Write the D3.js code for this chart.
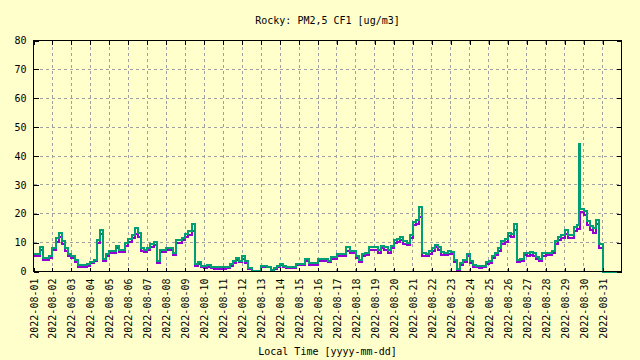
<!DOCTYPE html>
<html>
<head>
<meta charset="utf-8">
<script src="https://cdn.jsdelivr.net/npm/d3@7"></script>
<style>
  html, body { margin: 0; padding: 0; background: #ffffcc; }
  svg { display: block; }
  text { font-family: "DejaVu Sans Mono", monospace; font-size: 10px; fill: #000; }
</style>
</head>
<body>
<svg id="chart" width="640" height="360"></svg>
<script>
// ---- data (4-hour readings, 6 per day, Aug 1 .. Aug 31, 2022) ----
const title = "Rocky: PM2,5 CF1 [ug/m3]";
const xLabel = "Local Time [yyyy-mm-dd]";
const yTicks = [0, 10, 20, 30, 40, 50, 60, 70, 80];
const dayTicks = [
  "2022-08-01","2022-08-02","2022-08-03","2022-08-04","2022-08-05","2022-08-06",
  "2022-08-07","2022-08-08","2022-08-09","2022-08-10","2022-08-11","2022-08-12",
  "2022-08-13","2022-08-14","2022-08-15","2022-08-16","2022-08-17","2022-08-18",
  "2022-08-19","2022-08-20","2022-08-21","2022-08-22","2022-08-23","2022-08-24",
  "2022-08-25","2022-08-26","2022-08-27","2022-08-28","2022-08-29","2022-08-30",
  "2022-08-31"
];
const seriesGreen = [
  5.9, 5.9, 8.5, 4.6, 4.6, 5.5,
  8.3, 11.5, 13.5, 10.4, 8.0, 6.0,
  5.5, 4.0, 2.1, 2.1, 2.2, 2.5,
  3.3, 4.1, 11.0, 14.2, 4.5, 6.1,
  7.0, 7.0, 9.0, 7.6, 7.6, 10.0,
  11.1, 12.5, 15.0, 13.5, 8.0, 7.6,
  8.3, 9.4, 10.2, 3.8, 7.6, 7.6,
  8.3, 8.3, 6.4, 11.0, 11.0, 11.7,
  12.9, 14.0, 16.5, 2.5, 3.3, 2.0,
  1.8, 2.3, 1.7, 1.6, 1.5, 1.5,
  1.5, 1.6, 2.5, 3.5, 4.8, 3.8,
  5.2, 3.5, 1.3, 0.3, 0.3, 0.3,
  1.8, 1.8, 1.7, 0.5, 1.2, 2.0,
  2.7, 2.0, 1.7, 1.7, 1.7, 2.6,
  2.7, 2.7, 4.2, 2.9, 2.8, 2.9,
  4.2, 4.2, 4.2, 3.8, 5.0, 5.0,
  5.9, 5.9, 6.0, 8.5, 7.0, 7.0,
  5.5, 4.0, 6.1, 6.5, 8.4, 8.4,
  8.4, 7.3, 9.0, 8.5, 7.3, 9.0,
  11.0, 11.3, 12.0, 10.7, 10.0, 12.5,
  17.0, 18.0, 22.5, 6.3, 6.2, 7.0,
  8.0, 9.3, 8.5, 6.7, 6.5, 7.0,
  6.8, 4.0, 0.8, 2.8, 4.0, 6.0,
  3.5, 2.2, 2.0, 1.8, 2.0, 3.2,
  3.5, 5.5, 6.5, 8.0, 10.5, 11.3,
  13.2, 13.0, 16.5, 4.0, 4.2, 6.5,
  6.3, 6.7, 6.3, 5.0, 4.5, 6.3,
  6.4, 6.5, 7.2, 10.5, 12.0, 12.5,
  14.4, 12.5, 12.5, 15.3, 16.0, 21.7,
  21.0, 17.5, 15.8, 15.0, 18.0, 9.5,
  0, 0, 0, 0, 0, 0
];
const seriesPurple = [
  5.2, 5.2, 7.6, 3.9, 3.9, 4.7,
  7.6, 10.3, 12.0, 9.4, 7.2, 5.2,
  4.7, 3.4, 1.5, 1.5, 1.6, 1.9,
  2.8, 3.5, 10.0, 13.0, 3.8, 5.5,
  6.3, 6.3, 8.0, 6.8, 6.8, 9.0,
  10.2, 11.5, 13.0, 12.0, 7.0, 6.8,
  7.5, 8.5, 9.2, 3.0, 6.8, 6.8,
  7.5, 7.5, 5.6, 9.8, 10.0, 10.8,
  11.8, 12.5, 14.0, 2.0, 2.6, 1.5,
  1.3, 1.6, 1.2, 1.0, 1.0, 1.0,
  1.0, 1.2, 2.0, 3.0, 4.0, 3.2,
  4.5, 2.8, 1.0, 0.1, 0.1, 0.1,
  1.5, 1.5, 1.4, 0.2, 0.8, 1.6,
  2.2, 1.5, 1.2, 1.2, 1.2, 2.1,
  2.2, 2.2, 3.5, 2.4, 2.3, 2.4,
  3.6, 3.6, 3.7, 3.2, 4.4, 4.4,
  5.2, 5.3, 5.4, 7.0, 6.3, 6.3,
  4.8, 3.3, 5.4, 5.8, 7.6, 7.6,
  7.6, 6.5, 8.2, 7.6, 6.5, 8.2,
  10.0, 10.3, 11.0, 9.5, 9.2, 11.5,
  16.0, 16.5, 19.0, 5.5, 5.5, 6.2,
  7.2, 8.5, 7.5, 5.8, 5.7, 6.2,
  6.0, 3.2, 0.3, 2.2, 3.4, 5.2,
  2.8, 1.6, 1.4, 1.2, 1.5, 2.6,
  2.8, 4.8, 5.8, 7.2, 9.6, 10.3,
  12.2, 12.0, 14.5, 3.3, 3.5, 5.7,
  5.5, 5.8, 5.5, 4.2, 3.6, 5.5,
  5.7, 5.8, 6.4, 9.6, 11.0, 11.5,
  13.0, 11.5, 11.5, 14.0, 14.8, 20.5,
  19.5, 16.0, 14.3, 13.5, 16.5, 8.0,
  0, 0, 0, 0, 0, 0
];
// short hourly spike readings (green series) on Aug 29 evening
const spikeTimes = ["2022-08-29T18:00", "2022-08-29T19:00"];
const spikeGreen = [44.2, 38.0];

// ---- layout ----
const W = 640, H = 360;
const pL = 33.5, pR = 621.5, pT = 40.5, pB = 271.5;
const tStart = new Date(Date.UTC(2022, 7, 1));
const tEnd = new Date(Date.UTC(2022, 8, 1));
const stepMs = 4 * 3600 * 1000;
const parseT = d3.utcParse("%Y-%m-%dT%H:%M");
const parseD = d3.utcParse("%Y-%m-%d");

const x = d3.scaleUtc().domain([tStart, tEnd]).range([pL, pR]);
const y = d3.scaleLinear().domain([0, 80]).range([pB, pT]);

function buildPoints(vals, extraT, extraV) {
  const pts = vals.map((v, i) => ({ t: new Date(tStart.getTime() + i * stepMs), v }));
  if (extraT) extraT.forEach((s, i) => pts.push({ t: parseT(s), v: extraV[i] }));
  pts.sort((a, b) => a.t - b.t);
  pts.push({ t: tEnd, v: pts[pts.length - 1].v });
  return pts;
}
const ptsPurple = buildPoints(seriesPurple);
const ptsGreen = buildPoints(seriesGreen, spikeTimes, spikeGreen);

const svg = d3.select("#chart");
svg.append("rect").attr("width", W).attr("height", H).attr("fill", "#ffffcc");

// grid
const grid = svg.append("g").attr("stroke", "#a0a0a0").attr("stroke-width", 1)
  .attr("stroke-dasharray", "3,3").attr("shape-rendering", "crispEdges");
yTicks.slice(1, -1).forEach(t => {
  grid.append("line").attr("x1", pL).attr("x2", pR).attr("y1", y(t)).attr("y2", y(t));
});
dayTicks.slice(1).forEach(s => {
  const xv = x(parseD(s));
  grid.append("line").attr("x1", xv).attr("x2", xv).attr("y1", pT).attr("y2", pB);
});

// series lines
const line = d3.line().x(d => x(d.t)).y(d => y(d.v)).curve(d3.curveStepAfter);
svg.append("path").datum(ptsPurple).attr("d", line).attr("fill", "none")
  .attr("stroke", "#9400d3").attr("stroke-width", 2).attr("shape-rendering", "crispEdges");
svg.append("path").datum(ptsGreen).attr("d", line).attr("fill", "none")
  .attr("stroke", "#009e73").attr("stroke-width", 2).attr("shape-rendering", "crispEdges");

// axes with inward ticks (mirrored)
const axL = d3.axisLeft(y).tickValues(yTicks).tickSize(-5).tickPadding(7).tickFormat(d3.format("d"));
const axR = d3.axisRight(y).tickValues(yTicks).tickSize(-5).tickFormat("");
const tickDates = dayTicks.map(parseD);
const axB = d3.axisBottom(x).tickValues(tickDates).tickSize(-4).tickFormat(d3.utcFormat("%Y-%m-%d"));
const axT = d3.axisTop(x).tickValues(tickDates).tickSize(-4).tickFormat("");

function style(g) {
  g.select(".domain").remove();
  g.selectAll("line").attr("stroke", "#000").attr("shape-rendering", "crispEdges");
  g.attr("font-family", null).attr("font-size", null);
}
svg.append("g").attr("transform", `translate(${pL},0)`).call(axL).call(style);
svg.append("g").attr("transform", `translate(${pR},0)`).call(axR).call(style);
svg.append("g").attr("transform", `translate(0,${pT})`).call(axT).call(style);
const gb = svg.append("g").attr("transform", `translate(0,${pB})`).call(axB).call(style);
gb.selectAll("text")
  .attr("text-anchor", "end")
  .attr("dy", "0.35em")
  .attr("y", 0)
  .attr("transform", "translate(0,7) rotate(-90)");

// border
svg.append("rect").attr("x", pL).attr("y", pT).attr("width", pR - pL).attr("height", pB - pT)
  .attr("fill", "none").attr("stroke", "#000").attr("stroke-width", 1).attr("shape-rendering", "crispEdges");

// titles
svg.append("text").attr("x", (pL + pR) / 2).attr("y", 24).attr("text-anchor", "middle").text(title);
svg.append("text").attr("x", (pL + pR) / 2).attr("y", 355).attr("text-anchor", "middle").text(xLabel);
</script>
</body>
</html>
